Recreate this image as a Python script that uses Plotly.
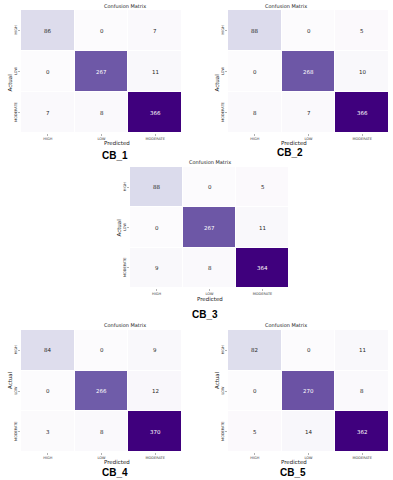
import plotly.graph_objects as go

W, H = 393, 480

labels = ["HIGH", "LOW", "MODERATE"]
model_names = ["CB_1", "CB_2", "CB_3", "CB_4", "CB_5"]

cb1 = [[86, 0, 7], [0, 267, 11], [7, 8, 366]]
cb2 = [[88, 0, 5], [0, 268, 10], [8, 7, 366]]
cb3 = [[88, 0, 5], [0, 267, 11], [9, 8, 364]]
cb4 = [[84, 0, 9], [0, 266, 12], [3, 8, 370]]
cb5 = [[82, 0, 11], [0, 270, 8], [5, 14, 362]]
matrices = [cb1, cb2, cb3, cb4, cb5]

# pixel boxes of each heatmap (left, right, top, bottom) and label anchors
boxes = [(21, 182, 10, 133), (228, 389, 10, 133), (130, 289, 167, 288),
         (21, 182, 330, 452), (228, 389, 330, 452)]
title_y = [6, 6, 162, 325, 325]
pred_y = [143, 143, 299, 462, 462]
cb_pos = [(100, 156), (305, 152), (205, 314), (100, 472), (308, 472)]
actual_dx = 11

purples = [[0.0, "rgb(252,251,253)"], [0.125, "rgb(239,237,245)"], [0.25, "rgb(218,218,235)"],
           [0.375, "rgb(188,189,220)"], [0.5, "rgb(158,154,200)"], [0.625, "rgb(128,125,186)"],
           [0.75, "rgb(106,81,163)"], [0.875, "rgb(84,39,143)"], [1.0, "rgb(63,0,125)"]]

fig = go.Figure()
annotations = []
FONT = "DejaVu Sans"

def px_x(p):
    return p / W

def px_y(p):
    return 1 - p / H

for i, (m, box) in enumerate(zip(matrices, boxes)):
    n = i + 1
    xa = "x" if n == 1 else f"x{n}"
    ya = "y" if n == 1 else f"y{n}"
    vmax = max(max(r) for r in m)
    fig.add_trace(go.Heatmap(
        z=m, x=labels, y=labels, xaxis=xa, yaxis=ya,
        colorscale=purples, zmin=0, zmax=vmax, showscale=False,
        xgap=1, ygap=1, hoverinfo="skip"))
    for r, row in enumerate(m):
        for c, v in enumerate(row):
            annotations.append(dict(
                x=labels[c], y=labels[r], xref=xa, yref=ya, text=str(v),
                showarrow=False,
                font=dict(family=FONT, size=5.5,
                          color="white" if v > vmax / 2 else "#262626")))
    l, r_, t, b = box
    xkey = "xaxis" if n == 1 else f"xaxis{n}"
    ykey = "yaxis" if n == 1 else f"yaxis{n}"
    fig.update_layout({
        xkey: dict(domain=[px_x(l), px_x(r_)], anchor=ya, showgrid=False,
                   zeroline=False, ticks="outside", ticklen=2, tickwidth=0.5,
                   tickcolor="#666", tickfont=dict(family=FONT, size=3.5, color="#333"),
                   showline=False, fixedrange=True),
        ykey: dict(domain=[px_y(b), px_y(t)], anchor=xa, showgrid=False,
                   zeroline=False, ticks="outside", ticklen=2, tickwidth=0.5,
                   tickcolor="#666", tickfont=dict(family=FONT, size=3.5, color="#333"),
                   tickangle=-90, autorange="reversed", showline=False, fixedrange=True),
    })
    cx = (l + r_) / 2
    annotations.append(dict(x=px_x(cx), y=px_y(title_y[i]), xref="paper", yref="paper",
                            text="Confusion Matrix", showarrow=False, yanchor="middle",
                            font=dict(family=FONT, size=5, color="#222")))
    annotations.append(dict(x=px_x(cx), y=px_y(pred_y[i]), xref="paper", yref="paper",
                            text="Predicted", showarrow=False, yanchor="middle",
                            font=dict(family=FONT, size=5.5, color="#222")))
    annotations.append(dict(x=px_x(l - actual_dx), y=px_y((t + b) / 2), xref="paper", yref="paper",
                            text="Actual", showarrow=False, textangle=-90, xanchor="center",
                            font=dict(family=FONT, size=5.5, color="#222")))
    annotations.append(dict(x=px_x(cb_pos[i][0]), y=px_y(cb_pos[i][1]), xref="paper", yref="paper",
                            text="<b>" + model_names[i] + "</b>", showarrow=False, yanchor="middle",
                            font=dict(family="Liberation Sans", size=10, color="black")))

fig.update_layout(width=W, height=H, margin=dict(l=0, r=0, t=0, b=0),
                  paper_bgcolor="white", plot_bgcolor="white",
                  annotations=annotations, showlegend=False)

fig.write_html("out.html", config={"displayModeBar": False, "staticPlot": True},
               post_script="document.body.style.margin='0px';document.body.style.overflow='hidden';")
